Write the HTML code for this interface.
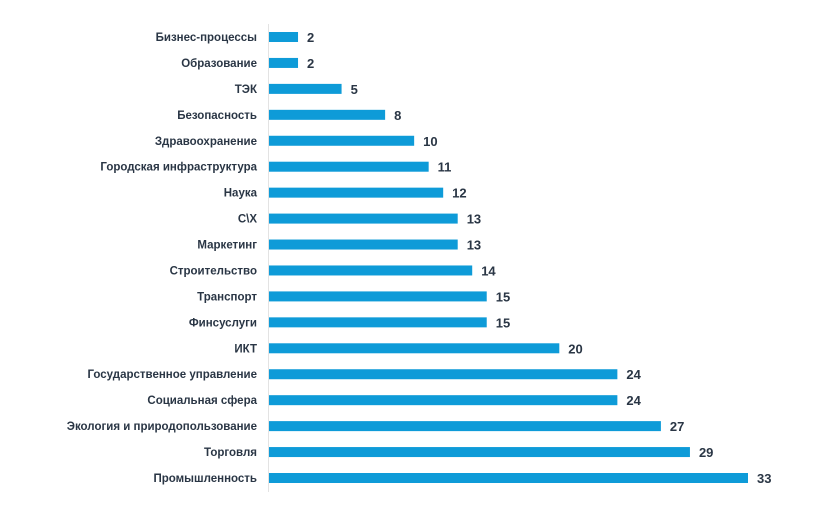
<!DOCTYPE html>
<html><head><meta charset="utf-8"><style>
html,body{margin:0;padding:0;background:#fff;}
svg{display:block;}
text{font-family:"Liberation Sans",sans-serif;font-weight:bold;fill:#2a3645;}
</style></head><body>
<svg id="chart" width="834" height="512" xmlns="http://www.w3.org/2000/svg">
<line x1="268.5" y1="24" x2="268.5" y2="492" stroke="#e3e3e3" stroke-width="1"/>
<g id="bars"></g>
</svg>
<script>
const categories = ["Бизнес-процессы","Образование","ТЭК","Безопасность","Здравоохранение","Городская инфраструктура","Наука","С\\Х","Маркетинг","Строительство","Транспорт","Финсуслуги","ИКТ","Государственное управление","Социальная сфера","Экология и природопользование","Торговля","Промышленность"];
const values = [2,2,5,8,10,11,12,13,13,14,15,15,20,24,24,27,29,33];
const x0 = 269, pxPerUnit = (748 - 269) / 33;
const y0 = 37, step = (478 - 37) / 17, barH = 10;
function xScale(v){ return x0 + v * pxPerUnit; }
function yScale(i){ return y0 + i * step; }
const g = document.getElementById('bars');
const NS = "http://www.w3.org/2000/svg";
categories.forEach((c, i) => {
  const y = yScale(i);
  const r = document.createElementNS(NS, 'rect');
  
  
  r.setAttribute('x', x0);
  r.setAttribute('y', y - barH / 2);
  r.setAttribute('width', xScale(values[i]) - x0);
  r.setAttribute('height', barH);
  r.setAttribute('fill', '#0e9bd8');
  g.appendChild(r);
  const t = document.createElementNS(NS, 'text');
  
  
  t.setAttribute('x', 257);
  t.setAttribute('y', y + 4);
  t.setAttribute('text-anchor', 'end');
  t.setAttribute('font-size', '11.5');
  t.textContent = c;
  g.appendChild(t);
  const v = document.createElementNS(NS, 'text');
  
  
  v.setAttribute('x', xScale(values[i]) + 9);
  v.setAttribute('y', y + 5);
  v.setAttribute('font-size', '13');
  v.textContent = values[i];
  g.appendChild(v);
});
</script>
</body></html>
